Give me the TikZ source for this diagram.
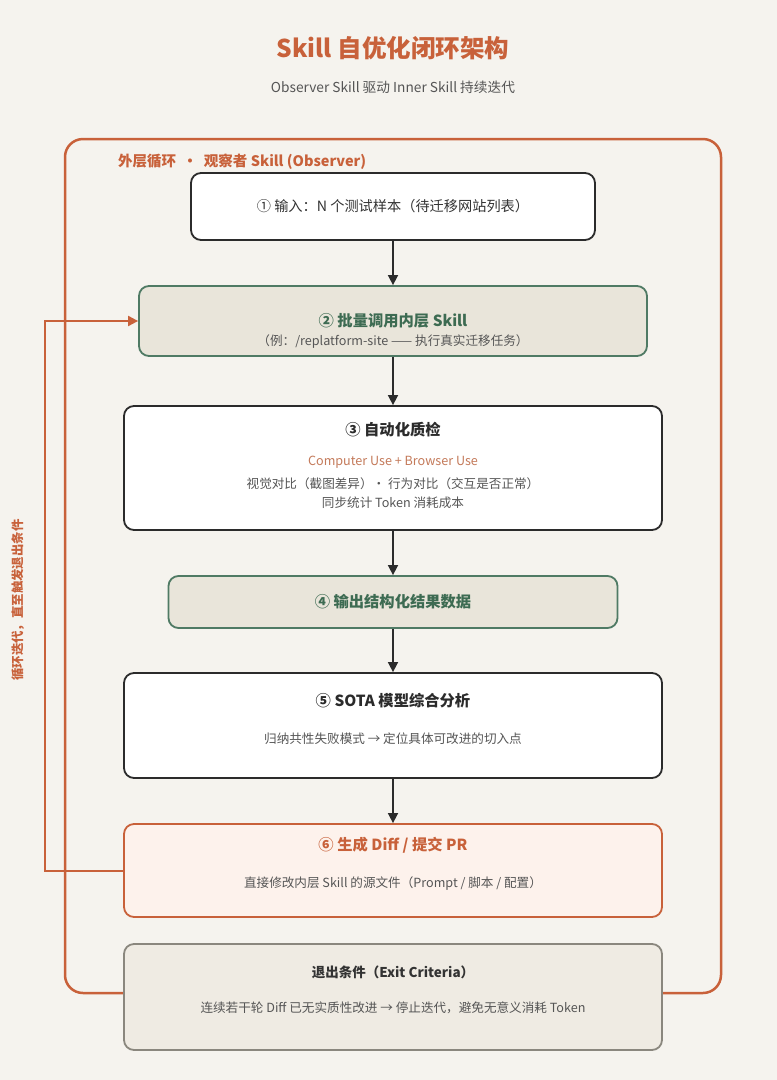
\documentclass[tikz,border=0pt]{standalone}
\usepackage{fontspec}
\setmainfont{Noto Sans CJK SC}
\usetikzlibrary{arrows.meta,calc}
\definecolor{bgc}{HTML}{F5F3EE}
\definecolor{orng}{HTML}{C8613A}
\definecolor{orngl}{HTML}{C47A5A}
\definecolor{darkc}{HTML}{2B2B2B}
\definecolor{grnS}{HTML}{4F7A64}
\definecolor{grnT}{HTML}{3D6B52}
\definecolor{beige}{HTML}{E9E5DA}
\definecolor{peach}{HTML}{FDF2EC}
\definecolor{exitF}{HTML}{EFEBE3}
\definecolor{exitS}{HTML}{8A877E}
\definecolor{txtg}{HTML}{555555}
\definecolor{txtd}{HTML}{333333}
\tikzset{
  boxbase/.style={rounded corners=10pt, line width=1.8pt, inner sep=0pt},
  whitebox/.style={boxbase, draw=darkc, fill=white},
  greenbox/.style={boxbase, draw=grnS, fill=beige},
  peachbox/.style={boxbase, draw=orng, fill=peach},
  exitbox/.style={boxbase, draw=exitS, fill=exitF},
  ttl/.style={font=\fontsize{15.3}{18}\selectfont\bfseries, text=darkc, inner sep=0pt},
  sub/.style={font=\fontsize{12.6}{15}\selectfont, text=txtg, inner sep=0pt},
  flow/.style={draw=darkc, line width=1.6pt, -{Triangle[width=10pt,length=10pt]}},
  back/.style={draw=orng, line width=2pt, -{Triangle[width=10pt,length=10pt]}}
}
\begin{document}
\begin{tikzpicture}[x=1pt,y=-1pt]
\fill[bgc] (0,0) rectangle (777,1080);
\useasboundingbox (0,0) rectangle (777,1080);

% title
\node[font=\fontsize{24.5}{28}\selectfont\bfseries, text=orng] (title) at (393,48) {Skill 自优化闭环架构};
\node[font=\fontsize{13.7}{16}\selectfont, text=txtg] (subtitle) at (393,87) {Observer Skill 驱动 Inner Skill 持续迭代};

% outer loop
\draw[orng, line width=2.5pt, rounded corners=18pt] (65,139) rectangle (721,993);
\node[anchor=west, font=\fontsize{14.5}{17}\selectfont\bfseries, text=orng, inner sep=0pt] (outerlbl) at (118,162) {外层循环 \ · \ 观察者 Skill (Observer)};

% boxes
\node[whitebox, minimum width=404, minimum height=67] (b1) at (393,206.5) {};
\node[font=\fontsize{14.2}{17}\selectfont, text=txtd, inner sep=0pt] (t1) at (b1.center) {① 输入：N 个测试样本（待迁移网站列表）};

\node[greenbox, minimum width=508, minimum height=70] (b2) at (393,321) {};
\node[ttl, text=grnT] (t2) at (393,321) {② 批量调用内层 Skill};
\node[sub] (s2) at (393,342) {（例：/replatform-site —— 执行真实迁移任务）};

\node[whitebox, minimum width=538, minimum height=124] (b3) at (393,468) {};
\node[ttl] (t3) at (393,430) {③ 自动化质检};
\node[sub, text=orngl] (s3a) at (393,462) {Computer Use + Browser Use};
\node[sub] (s3b) at (393,484) {视觉对比（截图差异）· 行为对比（交互是否正常）};
\node[sub] (s3c) at (393,503) {同步统计 Token 消耗成本};

\node[greenbox, minimum width=449, minimum height=52] (b4) at (393,602) {};
\node[ttl, text=grnT] (t4) at (b4.center) {④ 输出结构化结果数据};

\node[whitebox, minimum width=538, minimum height=105] (b5) at (393,725.5) {};
\node[ttl] (t5) at (393,701) {⑤ SOTA 模型综合分析};
\node[sub] (s5) at (393,739) {归纳共性失败模式 → 定位具体可改进的切入点};

\node[peachbox, minimum width=538, minimum height=93] (b6) at (393,870.5) {};
\node[ttl, text=orng] (t6) at (393,845) {⑥ 生成 Diff / 提交 PR};
\node[sub] (s6) at (393,884) {直接修改内层 Skill 的源文件（Prompt / 脚本 / 配置）};

\node[exitbox, minimum width=538, minimum height=106] (b7) at (393,997) {};
\node[ttl, font=\fontsize{13.5}{16}\selectfont\bfseries, text=txtd] (t7) at (393,972) {退出条件（Exit Criteria）};
\node[sub] (s7) at (393,1008) {连续若干轮 Diff 已无实质性改进 → 停止迭代，避免无意义消耗 Token};

% flow arrows
\draw[flow] (b1.south) -- (b2.north);
\draw[flow] (b2.south) -- (b3.north);
\draw[flow] (b3.south) -- (b4.north);
\draw[flow] (b4.south) -- (b5.north);
\draw[flow] (b5.south) -- (b6.north);

% feedback loop
\coordinate (loopx) at (45,0);
\draw[back] (b6.west) -- (b6.west -| loopx) -- (b2.west -| loopx) -- (b2.west);
\node[rotate=90, font=\fontsize{12.4}{15}\selectfont\bfseries, text=orng, inner sep=0pt] (looplbl) at (18,600) {循环迭代，直至触发退出条件};
\end{tikzpicture}
\end{document}
